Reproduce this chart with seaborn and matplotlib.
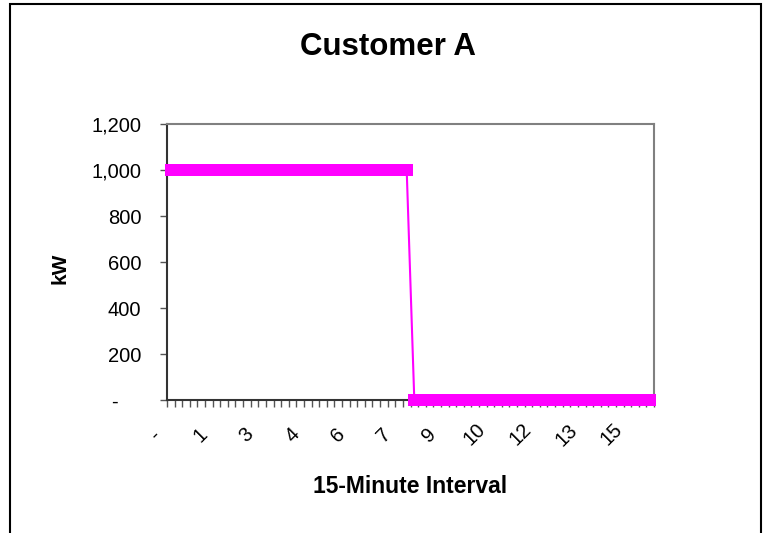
import numpy as np
import matplotlib
matplotlib.use("Agg")
import matplotlib.pyplot as plt
import matplotlib.patches as mpatches
from matplotlib.ticker import FixedLocator, FuncFormatter
from matplotlib.transforms import ScaledTranslation
import seaborn as sns

# 15-minute intervals (16 hours) and load (kW)
n_high = 32
n_low = 32
interval = np.arange(n_high + n_low)
kw = [1000] * n_high + [0] * n_low

# every 6th category carries a label (hour, integer part)
label_every = 6
x_labels = ['-', '1', '3', '4', '6', '7', '9', '10', '12', '13', '15']
y_ticks = [0, 200, 400, 600, 800, 1000, 1200]

sns.set_style('white')
plt.rcParams['font.family'] = ['Liberation Sans', 'DejaVu Sans']
plt.rcParams['text.color'] = 'black'
plt.rcParams['axes.labelcolor'] = 'black'
plt.rcParams['xtick.color'] = 'black'
plt.rcParams['ytick.color'] = 'black'

fig = plt.figure(figsize=(7.66, 5.33), dpi=100)
ax = fig.add_axes([167 / 766, 1 - 400 / 533, 487 / 766, 276 / 533])

sns.lineplot(x=interval, y=kw, ax=ax, color='#FF00FF', linewidth=1.5,
             marker='s', markersize=8.6, markeredgecolor='#FF00FF',
             markeredgewidth=0, clip_on=False, zorder=5)

ax.set_xlim(-0.5, len(interval) - 0.5)
ax.set_ylim(0, 1200)

# spines: dark axes, gray plot-area border
for s in ['left', 'bottom']:
    ax.spines[s].set_color('#333333')
    ax.spines[s].set_linewidth(1.5)
for s in ['top', 'right']:
    ax.spines[s].set_color('#808080')
    ax.spines[s].set_linewidth(1.5)

# y axis, accounting style labels
def acct(v, pos):
    if v == 0:
        return '-    '
    return f'{v:,.0f}'

ax.yaxis.set_major_locator(FixedLocator(y_ticks))
ax.yaxis.set_major_formatter(FuncFormatter(acct))
ax.tick_params(axis='y', which='major', direction='out', length=5, width=1,
               color='#555555', labelcolor='black', pad=13.5, labelsize=14.5,
               left=True)

# x axis: labels at category centres, ticks at category boundaries
ax.set_xticks(interval[::label_every])
ax.set_xticklabels(x_labels)
ax.set_xticks(np.arange(len(interval) + 1) - 0.5, minor=True)
ax.tick_params(axis='x', which='major', length=0, pad=25, labelsize=14.5,
               labelrotation=45, labelcolor='black')
ax.tick_params(axis='x', which='minor', direction='out', length=5, width=1,
               color='#555555', bottom=True)
offset = ScaledTranslation(-15.5 / 100, 0, fig.dpi_scale_trans)
for lab in ax.get_xticklabels():
    lab.set_ha('center')
    lab.set_va('center')
    lab.set_rotation_mode('anchor')
    lab.set_transform(lab.get_transform() + offset)

ax.set_xlabel('15-Minute Interval', fontsize=16.5, fontweight='bold', va='center')
ax.xaxis.set_label_coords(0.5, -0.315)
ax.set_ylabel('kW', fontsize=15, fontweight='bold', va='center')
ax.yaxis.set_label_coords(-0.22, 0.478)

fig.suptitle('Customer A', x=388 / 766, y=1 - 47 / 533, ha='center',
             va='center', fontsize=22.5, fontweight='bold', color='black')

# chart-area border (bottom edge falls outside the image)
border = mpatches.Rectangle((10 / 766, -0.1), 751 / 766, 1.1 - 3.5 / 533,
                            transform=fig.transFigure, fill=False,
                            edgecolor='black', linewidth=1.5, clip_on=False)
fig.patches.append(border)

fig.savefig('out.png', dpi=100)
